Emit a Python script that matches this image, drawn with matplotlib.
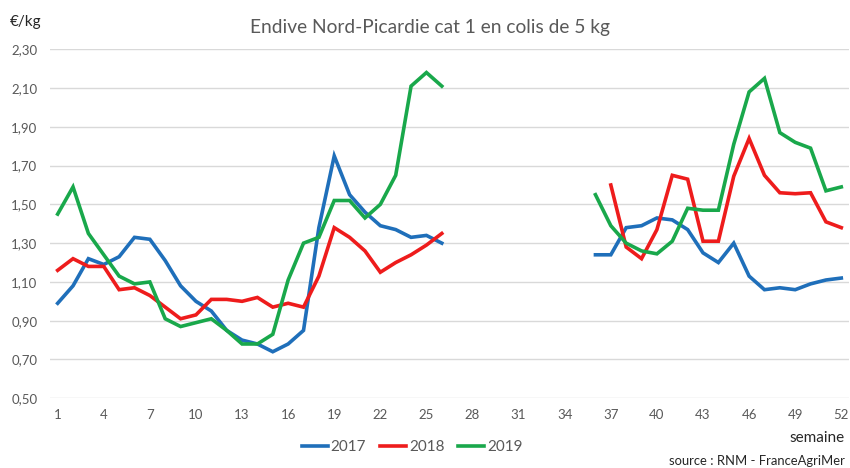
import numpy as np
import matplotlib
matplotlib.use("Agg")
import matplotlib.pyplot as plt

weeks = list(range(1, 53))
nan = np.nan
s2017 = [0.99, 1.08, 1.22, 1.19, 1.23, 1.33, 1.32, 1.21, 1.08, 1.00, 0.95, 0.85, 0.80,
         0.78, 0.74, 0.78, 0.85, 1.38, 1.75, 1.55, 1.46, 1.39, 1.37, 1.33, 1.34, 1.30] + [nan] * 9 + \
        [1.24, 1.24, 1.38, 1.39, 1.43, 1.42, 1.37, 1.25, 1.20, 1.30, 1.13, 1.06, 1.07, 1.06,
         1.09, 1.11, 1.12]
s2018 = [1.16, 1.22, 1.18, 1.18, 1.06, 1.07, 1.03, 0.97, 0.91, 0.93, 1.01, 1.01, 1.00,
         1.02, 0.97, 0.99, 0.97, 1.13, 1.38, 1.33, 1.26, 1.15, 1.20, 1.24, 1.29, 1.35] + [nan] * 10 + \
        [1.60, 1.28, 1.22, 1.37, 1.65, 1.63, 1.31, 1.31, 1.645, 1.84, 1.65, 1.56, 1.555, 1.56,
         1.41, 1.38]
s2019 = [1.45, 1.59, 1.35, 1.24, 1.13, 1.09, 1.10, 0.91, 0.87, 0.89, 0.91, 0.85, 0.78,
         0.78, 0.83, 1.11, 1.30, 1.33, 1.52, 1.52, 1.43, 1.50, 1.65, 2.11, 2.18, 2.11] + [nan] * 9 + \
        [1.55, 1.39, 1.30, 1.26, 1.245, 1.31, 1.48, 1.47, 1.47, 1.81, 2.08, 2.15, 1.87, 1.82,
         1.79, 1.57, 1.59]
labels = ["2017", "2018", "2019"]
colors = ["#1f6fba", "#ee1c1c", "#19a84b"]
yticks = [0.50, 0.70, 0.90, 1.10, 1.30, 1.50, 1.70, 1.90, 2.10, 2.30]
xticks = list(range(1, 53, 3))

plt.rcParams['font.family'] = ['Lato', 'DejaVu Sans']

fig = plt.figure(figsize=(8.5, 4.68), dpi=100)
ax = fig.add_axes([0.0588, 0.149, 0.94, 0.7457])

for s, lab, c in zip([s2017, s2018, s2019], labels, colors):
    ax.plot(weeks, s, color=c, lw=2.6, label=lab, solid_joinstyle='miter')

ax.set_xlim(0.5, 52.5)
ax.set_ylim(0.50, 2.30)
ax.set_yticks(yticks)
ax.set_yticklabels([f"{v:.2f}".replace(".", ",") for v in yticks])
ax.set_xticks(xticks)
ax.set_xticklabels([str(x) for x in xticks])
ax.grid(axis='y', color='#d9d9d9', lw=1)
ax.set_axisbelow(True)
for sp in ax.spines.values():
    sp.set_visible(False)
ax.tick_params(axis='both', length=0, colors='#595959', labelsize=9.5)
ax.tick_params(axis='y', pad=9)
ax.tick_params(axis='x', pad=8)

fig.text(0.506, 0.942, "Endive Nord-Picardie cat 1 en colis de 5 kg", ha='center', va='center',
         fontsize=13.8, color='#595959')
fig.text(0.012, 0.953, "€/kg", ha='left', va='center', fontsize=11, color='#262626')
fig.text(0.994, 0.064, "semaine", ha='right', va='center', fontsize=11, color='#262626')
fig.text(0.994, 0.015, "source : RNM - FranceAgriMer", ha='right', va='center', fontsize=9.4,
         color='#262626')

leg = fig.legend(loc='center', bbox_to_anchor=(0.485, 0.045), ncol=3, frameon=False,
                 fontsize=11, handlelength=1.7, handletextpad=0.2, columnspacing=0.9)
for t in leg.get_texts():
    t.set_color('#595959')

fig.savefig("out.png", dpi=100)
